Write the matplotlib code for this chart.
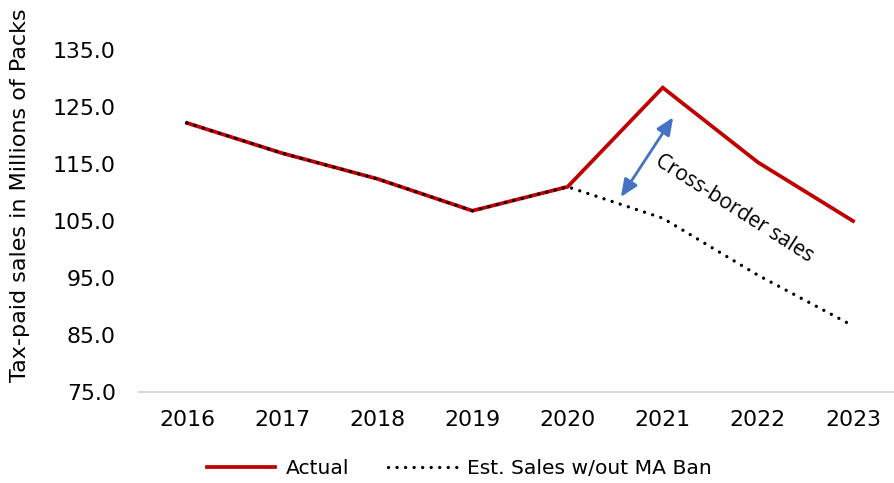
import matplotlib
matplotlib.use("Agg")
import matplotlib.pyplot as plt
from matplotlib.lines import Line2D

years = ["2016", "2017", "2018", "2019", "2020", "2021", "2022", "2023"]
actual = [122.2, 116.9, 112.4, 106.8, 111.0, 128.4, 115.3, 105.0]
estimated = [122.2, 116.9, 112.4, 106.8, 111.0, 105.5, 95.5, 86.6]
yticks = [75, 85, 95, 105, 115, 125, 135]
series_names = ["Actual", "Est. Sales w/out MA Ban"]
annotation_text = "Cross-border sales"
ylabel = "Tax-paid sales in Millions of Packs"

W, H = 895, 483
fig = plt.figure(figsize=(W / 100, H / 100), dpi=100)
plt.rcParams["font.family"] = ["DejaVu Sans"]

left_px, right_px = 139.4, 900.6
bottom_px, top_px = 392.0, -7.0
ax = fig.add_axes([left_px / W, 1 - bottom_px / H,
                   (right_px - left_px) / W, (bottom_px - top_px) / H])

dot_style = (0, (0.01, 2.55))
x = list(range(len(years)))
ax.plot(x, actual, color="#C00000", lw=2.7, solid_joinstyle="miter", zorder=2)
ax.plot(x, estimated, color="black", lw=2.4, linestyle=dot_style,
        dash_capstyle="round", zorder=3)

ax.set_xlim(-0.5, len(years) - 0.5)
ax.set_ylim(75, 145)
ax.set_yticks(yticks)
ax.set_yticklabels([f"{v:.1f}" for v in yticks])
ax.set_xticks(x)
ax.set_xticklabels(years)
ax.tick_params(axis="both", length=0, labelsize=15.8, colors="#000000")
ax.tick_params(axis="y", pad=17)
ax.tick_params(axis="x", pad=13)
for s in ["top", "right", "left"]:
    ax.spines[s].set_visible(False)
ax.spines["bottom"].set_color("#D9D9D9")
ax.spines["bottom"].set_linewidth(1.5)

fig.text(20 / W, 1 - 195 / H, ylabel, rotation=90, ha="center", va="center",
         fontsize=16, color="#000000")

# double-headed arrow between lines
ax.annotate("", xy=(5.11, 123.2), xytext=(4.56, 109.2),
            arrowprops=dict(arrowstyle="<|-|>,head_length=1.05,head_width=0.45",
                            color="#4472C4", lw=2.0, shrinkA=0, shrinkB=0))
ax.text(5.75, 107.2, annotation_text, rotation=-32.5, ha="center", va="center",
        fontsize=15.2, family=["Open Sans", "DejaVu Sans"], rotation_mode="anchor")

handles = [Line2D([], [], color="#C00000", lw=2.7),
           Line2D([], [], color="black", lw=2.4, linestyle=dot_style,
                  dash_capstyle="round")]
fig.legend(handles, series_names, loc="center", ncol=2, frameon=False,
           bbox_to_anchor=(459 / W, 1 - 469 / H), fontsize=14.6,
           handlelength=3.4, handletextpad=0.5, columnspacing=1.9,
           borderpad=0, borderaxespad=0)

fig.savefig("out.png", dpi=100)
